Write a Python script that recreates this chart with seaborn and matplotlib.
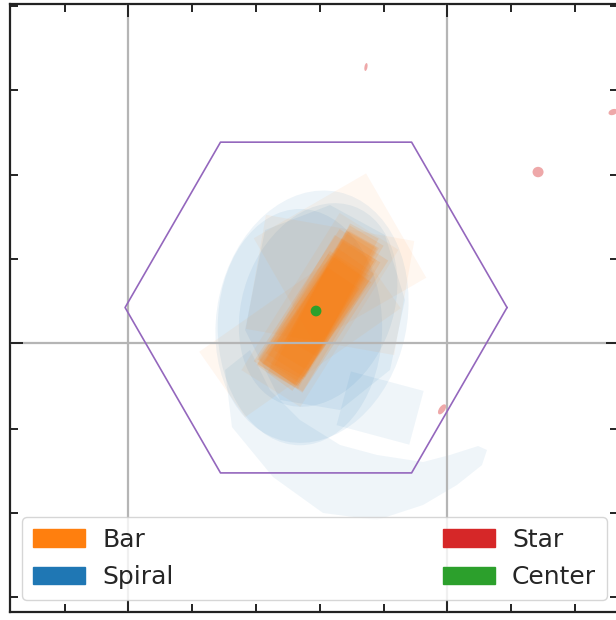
import matplotlib
matplotlib.use("Agg")
import matplotlib.pyplot as plt
from matplotlib.patches import Rectangle, Ellipse, Polygon, Patch
import seaborn as sns

sns.set_theme(style="ticks")
plt.rcParams["font.family"] = ["DejaVu Sans"]

pal = sns.color_palette("tab10")
c_bar, c_spiral, c_star, c_center, c_hex = pal[1], pal[0], pal[3], pal[2], pal[4]

# image pixel coordinates of the 525x525 cutout (origin upper left)
img_size = 525
x_minor = [47.9, 102.3, 157.6, 212.8, 268.0, 323.1, 378.1, 433.2, 488.4]
x_major = [102.3, 378.1]
y_minor = [1.7, 74.3, 147.7, 220.2, 292.7, 367.0, 439.5, 512.1]
y_major = [292.7]

# IFU footprint
hex_x = [429.6, 347.2, 182.2, 99.8, 182.2, 347.2]
hex_y = [262.1, 119.3, 119.3, 262.1, 404.9, 404.9]

# bar masks: centre, length, width, angle
bar_cx = [268, 271, 265, 274, 262, 268, 276, 263, 270, 266, 279, 260, 269, 267]
bar_cy = [266, 262, 270, 257, 273, 265, 254, 276, 264, 268, 250, 278, 265, 267]
bar_len = [128, 134, 118, 138, 110, 122, 126, 116, 140, 104, 108, 100, 136, 130]
bar_wid = [36, 30, 40, 28, 42, 32, 34, 38, 30, 40, 30, 34, 50, 46]
bar_ang = [-58, -60, -55, -62, -56, -57, -59, -54, -61, -58, -60, -56, -57, -59]

# loose bar masks
obar_cx = [285.4, 250.8, 276.8, 268.1]
obar_cy = [219.3, 281.5, 242.6, 264.2]
obar_len = [112, 164, 130, 160]
obar_wid = [104, 69, 100, 60]
obar_ang = [-30, -35, 10, -58]

# spiral masks
sp_cx = [261.2, 266.5, 250.8]
sp_cy = [270.0, 259.9, 279.0]
sp_w = [164, 130, 142]
sp_h = [220, 181, 204]
sp_ang = [12, 20, 0]

sp_poly_x = [220.6, 276.8, 324.2, 341.5, 328.6, 285.4, 233.6, 203.4]
sp_poly_y = [195.2, 173.6, 199.5, 255.6, 316.0, 350.6, 341.9, 281.5]

tail_x = [186.1, 192.1, 227.5, 270.7, 317.3, 357.1, 386.4, 408.0, 412.3,
          404.6, 380.4, 357.1, 317.3, 285.4, 250.8, 224.9, 207.7]
tail_y = [316.0, 365.3, 408.4, 439.5, 445.6, 432.6, 415.3, 398.1, 385.1,
          381.7, 389.4, 395.5, 389.4, 380.8, 359.2, 333.3, 298.8]

sq_cx, sq_cy, sq_w, sq_h, sq_ang = 320.0, 348.9, 65, 48, 15

# stars
star_x = [307.8, 456.4, 373.5, 521.1]
star_y = [54.4, 145.1, 350.0, 93.3]
star_w = [2.6, 9.5, 10.0, 8.0]
star_h = [6.9, 9.0, 5.0, 5.0]
star_ang = [10, 0, -55, -20]

center_x, center_y = [264.7], [265.1]


def rect(cx, cy, w, h, ang, color, alpha):
    return Rectangle((cx - w / 2, cy - h / 2), w, h, angle=ang,
                     rotation_point="center", facecolor=color,
                     edgecolor="none", alpha=alpha)


fig = plt.figure(figsize=(6.16, 6.20), dpi=100)
ax = fig.add_axes([9.5 / 616, 8 / 620, 608 / 616, 608 / 620])

# spiral
for cx, cy, w, h, a in zip(sp_cx, sp_cy, sp_w, sp_h, sp_ang):
    ax.add_patch(Ellipse((cx, cy), w, h, angle=a, facecolor=c_spiral,
                         edgecolor="none", alpha=0.08))
ax.add_patch(Polygon(list(zip(sp_poly_x, sp_poly_y)), facecolor=c_spiral,
                     edgecolor="none", alpha=0.08))
ax.add_patch(Polygon(list(zip(tail_x, tail_y)), facecolor=c_spiral,
                     edgecolor="none", alpha=0.07))
ax.add_patch(rect(sq_cx, sq_cy, sq_w, sq_h, sq_ang, c_spiral, 0.07))

# bar
for cx, cy, l, w, a in zip(obar_cx, obar_cy, obar_len, obar_wid, obar_ang):
    ax.add_patch(rect(cx, cy, l, w, a, c_bar, 0.06))
for cx, cy, l, w, a in zip(bar_cx, bar_cy, bar_len, bar_wid, bar_ang):
    ax.add_patch(rect(cx, cy, l, w, a, c_bar, 0.13))

# stars
for x, y, w, h, a in zip(star_x, star_y, star_w, star_h, star_ang):
    ax.add_patch(Ellipse((x, y), w, h, angle=a, facecolor=c_star,
                         edgecolor="none", alpha=0.4))

# hexagon
ax.plot(hex_x + hex_x[:1], hex_y + hex_y[:1], color=c_hex, lw=1.2, zorder=3)

# galaxy centre
sns.scatterplot(x=center_x, y=center_y, color=c_center, s=60,
                edgecolor="none", ax=ax, zorder=4)

ax.set_xlim(0, img_size)
ax.set_ylim(img_size, 0)
ax.set_aspect("equal")

ax.set_xticks(x_major)
ax.set_xticks(x_minor, minor=True)
ax.set_yticks(y_major)
ax.set_yticks(y_minor, minor=True)
ax.set_xticklabels([])
ax.set_yticklabels([])
ax.tick_params(which="both", direction="in", top=True, right=True,
               colors="#222222", width=1.4)
ax.tick_params(which="major", length=9)
ax.tick_params(which="minor", length=6)
ax.grid(True, which="major", color="#b5b5b5", lw=1.6)
ax.set_axisbelow(False)
for s in ax.spines.values():
    s.set_color("#222222")
    s.set_linewidth(1.6)

handles = [Patch(color=c_bar, label="Bar"), Patch(color=c_spiral, label="Spiral"),
           Patch(color=c_star, label="Star"), Patch(color=c_center, label="Center")]
ax.legend(handles=handles, ncol=2, loc="lower left", mode="expand",
          bbox_to_anchor=(0.0206, 0.0197, 0.962, 0.13), borderaxespad=0,
          fontsize=18, handlelength=2.1, handleheight=0.7,
          handletextpad=0.68, labelspacing=0.55, borderpad=0.43,
          edgecolor="0.8")

fig.savefig("out.png", dpi=100)
